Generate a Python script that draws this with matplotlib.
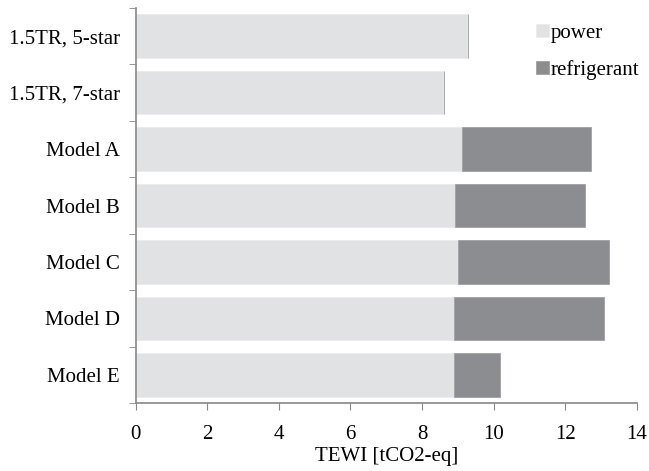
import matplotlib.pyplot as plt
import numpy as np

plt.rcParams['font.family'] = ['Liberation Serif', 'DejaVu Serif']

models = ['1.5TR, 5-star', '1.5TR, 7-star', 'Model A', 'Model B', 'Model C', 'Model D', 'Model E']
power = [9.28, 8.61, 9.12, 8.93, 9.02, 8.89, 8.90]
refrigerant = [0, 0, 3.61, 3.63, 4.20, 4.20, 1.28]
xticks = [0, 2, 4, 6, 8, 10, 12, 14]

fs = 15

fig = plt.figure(figsize=(6.49, 4.71), dpi=100)
ax = fig.add_axes([0.209, 0.144, 0.772, 0.839])

y = np.arange(len(models))
ax.barh(y, power, height=0.77, color='#e1e2e4', edgecolor='#ececee', linewidth=0.6, label='power')
ax.barh(y, refrigerant, left=power, height=0.77, color='#8c8d90', edgecolor='#a0a1a4', linewidth=0.6,
        label='refrigerant')

ax.set_ylim(len(models) - 0.5, -0.5)
ax.set_yticks(y)
ax.set_yticklabels(models, fontsize=fs)
ax.set_yticks(np.arange(-0.5, len(models), 1), minor=True)
ax.tick_params(axis='y', which='major', length=0, pad=11.5)
ax.tick_params(axis='y', which='minor', length=5, color='#888888', direction='out')

ax.set_xlim(0, 14)
ax.set_xticks(xticks)
ax.tick_params(axis='x', length=5, color='#888888', labelsize=fs, pad=11)
ax.set_xlabel('TEWI [tCO2-eq]', fontsize=fs, labelpad=2)

for s in ['top', 'right']:
    ax.spines[s].set_visible(False)
for s in ['left', 'bottom']:
    ax.spines[s].set_color('#888888')
    ax.spines[s].set_linewidth(1.2)

ax.legend(loc='upper right', bbox_to_anchor=(1.043, 1.008), frameon=False, fontsize=fs,
          handlelength=0.6, handleheight=0.6, handletextpad=0.1, labelspacing=0.85)

fig.savefig('out.png', dpi=100)
